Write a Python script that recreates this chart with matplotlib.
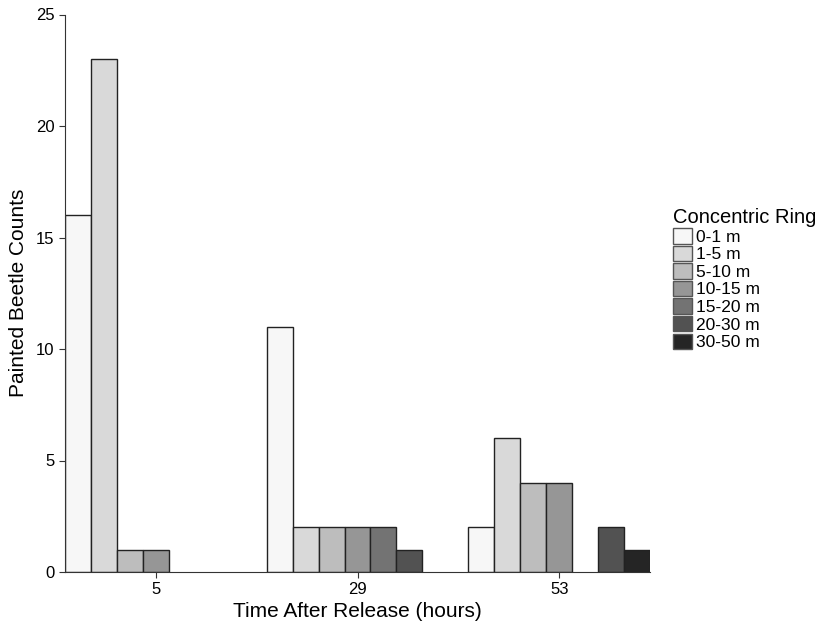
import numpy as np
import matplotlib
matplotlib.use("Agg")
import matplotlib.pyplot as plt
from matplotlib.patches import Patch

plt.rcParams["font.family"] = ["Liberation Sans", "DejaVu Sans"]

# data
times = [5, 29, 53]
rings = ["0-1 m", "1-5 m", "5-10 m", "10-15 m", "15-20 m", "20-30 m", "30-50 m"]
counts_5 = [16, 23, 1, 1, 0, 0, 0]
counts_29 = [11, 2, 2, 2, 2, 1, 0]
counts_53 = [2, 6, 4, 4, 0, 2, 1]
ring_colors = ["#F7F7F7", "#D9D9D9", "#BDBDBD", "#969696", "#737373", "#525252", "#252525"]

counts = np.array([counts_5, counts_29, counts_53])

fig = plt.figure(figsize=(8.25, 6.3), dpi=100)
ax = fig.add_axes([65 / 825, 58 / 630, 585 / 825, 557.5 / 630])

# ggplot-style dodge: total width 0.9 * 24
total_w = 0.9 * (times[1] - times[0])
bar_w = total_w / len(rings)
for j, ring in enumerate(rings):
    xs = np.array(times) - total_w / 2 + bar_w * (j + 0.5)
    vals = counts[:, j]
    mask = vals > 0
    ax.bar(xs[mask], vals[mask], width=bar_w, color=ring_colors[j],
           edgecolor="#222222", linewidth=1.0, zorder=2)

ax.set_xlim(times[0] - total_w / 2, times[-1] + total_w / 2)
ax.set_ylim(0, 25)
ax.set_xticks(times)
ax.set_yticks(np.arange(0, 26, 5))
ax.spines["top"].set_visible(False)
ax.spines["right"].set_visible(False)
ax.spines["left"].set_color("#333333")
ax.spines["bottom"].set_color("#333333")
ax.tick_params(axis="both", labelsize=12, length=4, color="#333333", labelcolor="black")
ax.set_xlabel("Time After Release (hours)", fontsize=15, labelpad=3)
ax.set_ylabel("Painted Beetle Counts", fontsize=15, labelpad=6)

handles = [Patch(facecolor=c, edgecolor="#555555", linewidth=1.0) for c in ring_colors]
leg = fig.legend(handles, rings, title="Concentric Ring", loc="upper left",
                 bbox_to_anchor=(661 / 825, 1 - 196 / 630), frameon=False,
                 fontsize=12.5, title_fontsize=14.5, handlelength=1.1, handleheight=1.0,
                 handletextpad=0.2, labelspacing=0.05, borderpad=0.2)
leg._legend_box.align = "left"

fig.savefig("out.png", dpi=100)
